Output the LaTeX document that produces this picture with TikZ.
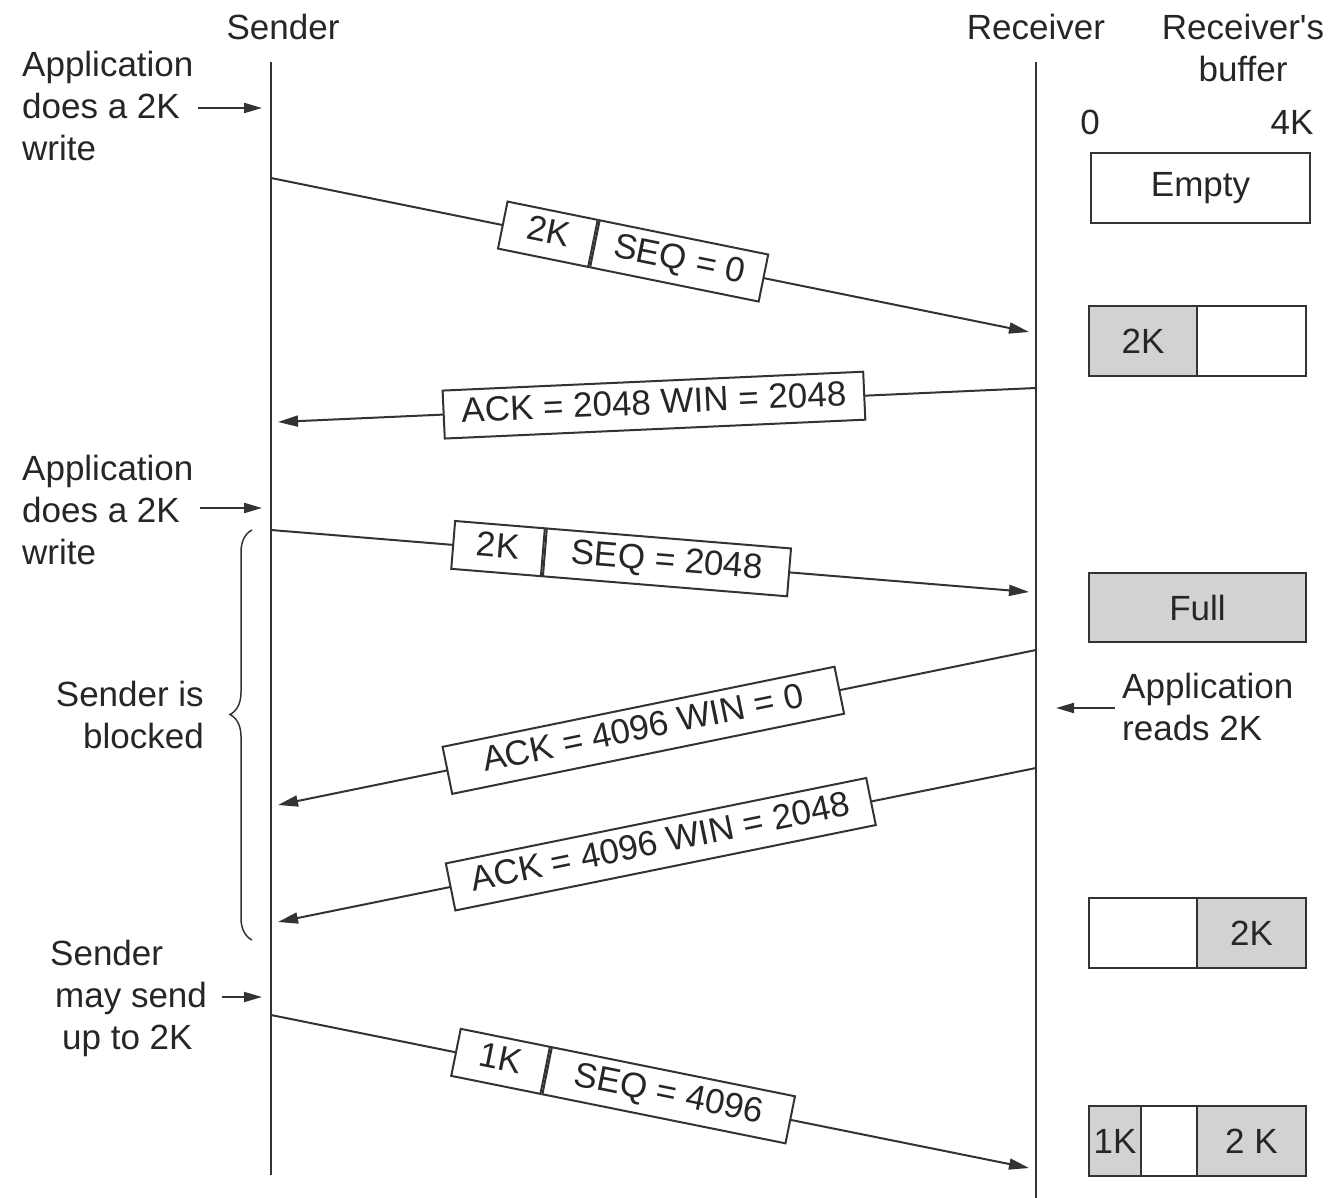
\documentclass[tikz,border=0pt]{standalone}
\usepackage{fontspec}
\setmainfont{Liberation Sans}
\usetikzlibrary{arrows.meta,decorations.pathreplacing}
\begin{document}
\begin{tikzpicture}[x=1pt,y=-1pt,
  font=\fontsize{35}{42}\selectfont,
  every node/.style={text=black!85},
  life/.style={line width=2pt, draw=black!80},
  msg/.style={line width=2pt, draw=black!80, -{Triangle[length=20pt,width=11pt]}},
  note/.style={line width=2pt, draw=black!80, -{Triangle[length=18pt,width=10pt]}},
  pkt/.style={draw=black!80, line width=2pt, fill=white, inner xsep=6pt, inner ysep=7pt, text height=26pt, text depth=8pt, sloped},
  cell/.style={draw=black!80, line width=2pt, minimum height=70pt, inner sep=0pt, anchor=north west},
  full/.style={cell, fill=gray!35},
  lbl/.style={inner sep=0pt},
]
\useasboundingbox (0,0) rectangle (1331,1198);

% headings
\node[lbl, anchor=base] (hs) at (283,39.5) {Sender};
\node[lbl, anchor=base] (hr) at (1036,39.5) {Receiver};
\node[lbl, anchor=north, align=center] (hb) at (1243,14) {Receiver\textquotesingle s\\buffer};
\node[lbl, anchor=base] (b0) at (1090,134.5) {0};
\node[lbl, anchor=base] (b4) at (1292,134.5) {4K};

% lifelines
\coordinate (stop) at (271,62);
\coordinate (sbot) at (271,1175);
\coordinate (rtop) at (1036,62);
\coordinate (rbot) at (1036,1198);
\draw[life] (stop) -- (sbot);
\draw[life] (rtop) -- (rbot);

% message end points
\coordinate (s1) at (271,178);  \coordinate (r1) at (1029,332);
\coordinate (r2) at (1036,388); \coordinate (s2) at (278,422);
\coordinate (s3) at (271,530);  \coordinate (r3) at (1029,592);
\coordinate (r4) at (1036,650); \coordinate (s4) at (278,805);
\coordinate (r5) at (1036,768); \coordinate (s5) at (278,922);
\coordinate (s6) at (271,1015); \coordinate (r6) at (1029,1168);

% message 1
\draw[msg] (s1) -- (r1)
  node[pkt, pos=0.426, anchor=east, minimum width=92pt] (m1a) {2K}
  node[pkt, pos=0.426, anchor=west, minimum width=172pt] (m1b) {SEQ = 0};
% message 2
\draw[msg] (r2) -- (s2)
  node[pkt, pos=0.504, minimum width=421pt] (m2) {ACK = 2048 WIN = 2048};
% message 3
\draw[msg] (s3) -- (r3)
  node[pkt, pos=0.360, anchor=east, minimum width=90pt] (m3a) {2K}
  node[pkt, pos=0.360, anchor=west, minimum width=245pt] (m3b) {SEQ = 2048};
% message 4
\draw[msg] (r4) -- (s4)
  node[pkt, pos=0.518, minimum width=400pt] (m4) {ACK = 4096 WIN = 0};
% message 5
\draw[msg] (r5) -- (s5)
  node[pkt, pos=0.495, minimum width=429pt] (m5) {ACK = 4096 WIN = 2048};
% message 6
\draw[msg] (s6) -- (r6)
  node[pkt, pos=0.363, anchor=east, minimum width=91pt] (m6a) {1K}
  node[pkt, pos=0.363, anchor=west, minimum width=248pt] (m6b) {SEQ = 4096};

% left notes
\node[lbl, anchor=north west, align=left] (app1) at (22,51) {Application\\does a 2K\\write};
\coordinate (a1s) at (198,108); \coordinate (a1e) at (262,108);
\draw[note] (a1s) -- (a1e);
\node[lbl, anchor=north west, align=left] (app2) at (22,455) {Application\\does a 2K\\write};
\coordinate (a2s) at (200,508); \coordinate (a2e) at (262,508);
\draw[note] (a2s) -- (a2e);
\node[lbl, anchor=north east, align=right] (blk) at (204,681) {Sender is\\blocked};
\coordinate (bra) at (252,940); \coordinate (brb) at (252,530);
\draw[line width=1.5pt, draw=black!80, decorate, decoration={brace, amplitude=22pt, aspect=0.55}] (bra) -- (brb);
\node[lbl, anchor=north west, align=left] (may) at (50,940) {Sender\\\hspace*{5pt}may send\\\hspace*{12pt}up to 2K};
\coordinate (a3s) at (222,997); \coordinate (a3e) at (262,997);
\draw[note] (a3s) -- (a3e);

% receiver notes
\node[lbl, anchor=north west, align=left] (rd) at (1122,673) {Application\\reads 2K};
\coordinate (a4s) at (1115,708); \coordinate (a4e) at (1056,708);
\draw[note] (a4s) -- (a4e);

% buffers
\node[cell, minimum width=219pt] (e1) at (1090,152) {Empty};
\node[full, minimum width=108pt] (f2a) at (1088,305) {2K};
\node[cell, minimum width=109pt] (f2b) at (1196,305) {};
\node[full, minimum width=217pt, minimum height=69pt] (f3) at (1088,572) {Full};
\node[cell, minimum width=108pt] (f4a) at (1088,897) {};
\node[full, minimum width=109pt] (f4b) at (1196,897) {2K};
\node[full, minimum width=52pt] (f5a) at (1088,1105) {1K};
\node[cell, minimum width=56pt] (f5b) at (1140,1105) {};
\node[full, minimum width=109pt] (f5c) at (1196,1105) {2 K};
\end{tikzpicture}
\end{document}
